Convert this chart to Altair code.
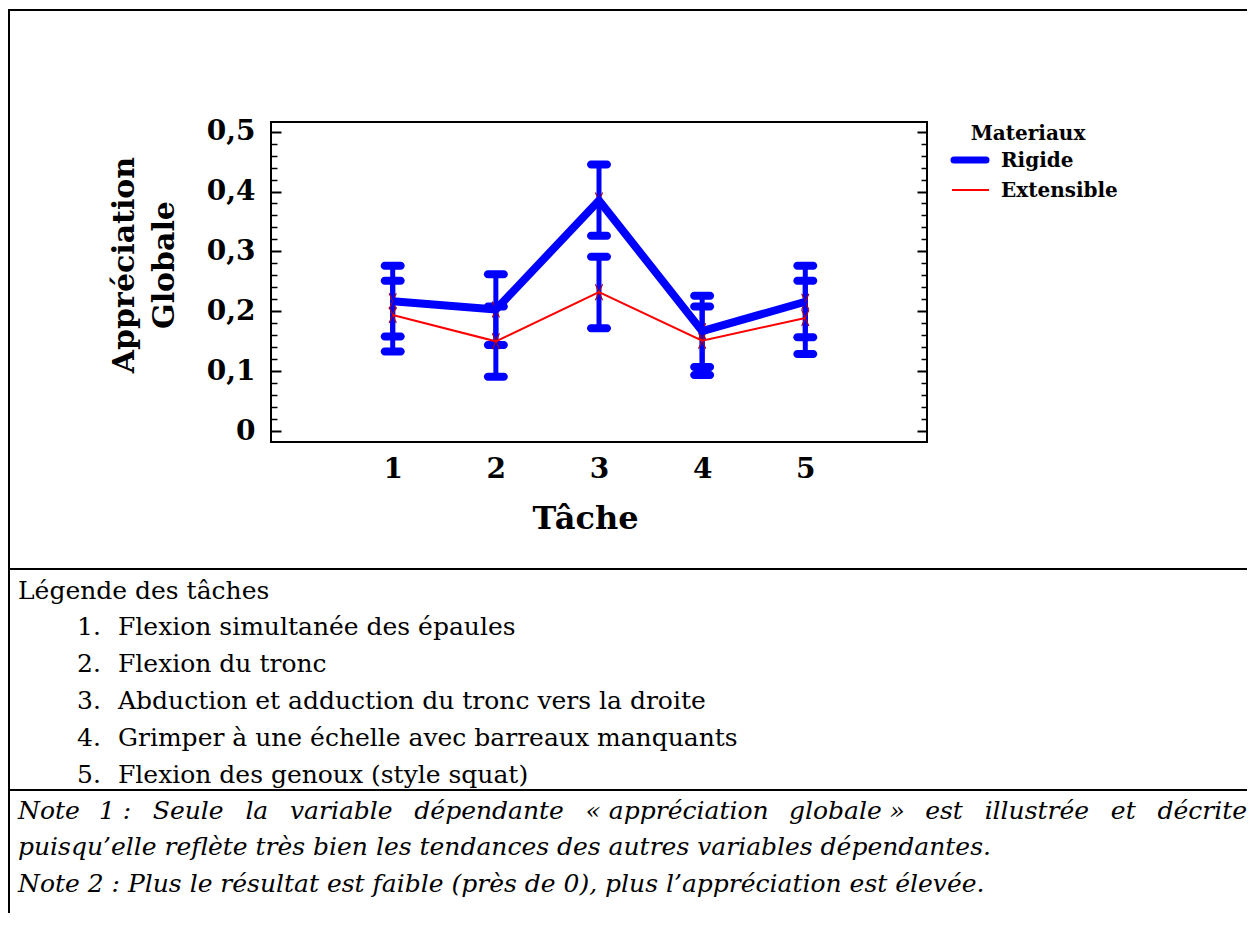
import json
import altair as alt
import pandas as pd

# ---------------- data ----------------
TASKS = [1, 2, 3, 4, 5]
X_TICK_LABELS = ["1", "2", "3", "4", "5"]
SERIES = ["Rigide", "Extensible"]

RIGIDE_MEAN = [0.217, 0.203, 0.385, 0.167, 0.216]
RIGIDE_LOW = [0.158, 0.144, 0.326, 0.107, 0.157]
RIGIDE_HIGH = [0.276, 0.262, 0.445, 0.226, 0.276]

EXT_MEAN = [0.194, 0.150, 0.232, 0.151, 0.189]
EXT_LOW = [0.133, 0.091, 0.172, 0.094, 0.129]
EXT_HIGH = [0.251, 0.208, 0.291, 0.208, 0.251]

Y_MAJOR = [0, 0.1, 0.2, 0.3, 0.4, 0.5]
Y_MAJOR_LABELS = ["0", "0,1", "0,2", "0,3", "0,4", "0,5"]
Y_MINOR = [0.02, 0.04, 0.06, 0.08, 0.12, 0.14, 0.16, 0.18, 0.22, 0.24, 0.26, 0.28,
           0.32, 0.34, 0.36, 0.38, 0.42, 0.44, 0.46, 0.48]

X_TITLE = "Tâche"
Y_TITLE_LINES = ["Appréciation", "Globale"]
LEGEND_TITLE = "Materiaux"

TASK_LEGEND_TITLE = "Légende des tâches"
TASK_NAMES = [
    "Flexion simultanée des épaules",
    "Flexion du tronc",
    "Abduction et adduction du tronc vers la droite",
    "Grimper à une échelle avec barreaux manquants",
    "Flexion des genoux (style squat)",
]
NOTE1_LINE1 = ["Note", "1 :", "Seule", "la", "variable", "dépendante", "« appréciation",
               "globale »", "est", "illustrée", "et", "décrite"]
NOTE1_LINE2 = "puisqu’elle reflète très bien les tendances des autres variables dépendantes."
NOTE2 = "Note 2 : Plus le résultat est faible (près de 0), plus l’appréciation est élevée."

# ---------------- styles ----------------
FONT = "DejaVu Serif"
BLUE = "#0000ff"
RED = "#ff0000"
MARK_RED = "#a0001c"
BODY = 25

rows = []
for name, means, lows, highs in [("Rigide", RIGIDE_MEAN, RIGIDE_LOW, RIGIDE_HIGH),
                                 ("Extensible", EXT_MEAN, EXT_LOW, EXT_HIGH)]:
    for t, m, lo, hi in zip(TASKS, means, lows, highs):
        rows.append({"task": t, "materiau": name, "mean": m, "lower": lo, "upper": hi})
df = pd.DataFrame(rows)

W, H = 656, 320
PAD_L, PAD_T = 263, 114
SVG_W, SVG_H = 1239, 905
RIGHT_EDGE = SVG_W - PAD_L          # plot-coordinate x of the page's right edge
BOTTOM_EDGE = SVG_H - PAD_T         # plot-coordinate y of the svg's bottom edge

xscale = alt.Scale(domain=[-0.18, 6.18], nice=False, zero=False)
yscale = alt.Scale(domain=[-0.018, 0.516], nice=False, zero=False)

y_label_expr = f"{json.dumps(Y_MAJOR_LABELS)}[round(datum.value * 10)]"
x_label_expr = f"{json.dumps(X_TICK_LABELS)}[round(datum.value) - 1]"

ax_left_major = alt.Axis(orient="left", offset=-10, values=Y_MAJOR, tickSize=10, tickWidth=2,
                         tickColor="black", domain=False, grid=False, labelExpr=y_label_expr,
                         labelFont=FONT, labelFontWeight="bold", labelFontSize=28,
                         labelColor="black", labelPadding=16, labelBaseline="middle",
                         labelOverlap=False, title=None)
ax_left_minor = alt.Axis(orient="left", offset=-6, values=Y_MINOR, tickSize=6, tickWidth=1.5,
                         tickColor="black", domain=False, grid=False, labels=False, title=None)
ax_right_major = alt.Axis(orient="right", offset=-10, values=Y_MAJOR, tickSize=10, tickWidth=2,
                          tickColor="black", domain=False, grid=False, labels=False, title=None)
ax_right_minor = alt.Axis(orient="right", offset=-6, values=Y_MINOR, tickSize=6, tickWidth=1.5,
                          tickColor="black", domain=False, grid=False, labels=False, title=None)
ax_x = alt.Axis(orient="bottom", values=TASKS, labelExpr=x_label_expr, ticks=False, tickSize=0,
                domain=False, grid=False, labelFont=FONT, labelFontWeight="bold",
                labelFontSize=28, labelColor="black", labelPadding=35,
                labelBaseline="alphabetic", labelFlush=False, labelOverlap=False,
                title=X_TITLE, titleFont=FONT,
                titleFontWeight="bold", titleFontSize=32, titleColor="black",
                titleX=314, titleY=86, titleBaseline="alphabetic", titleAlign="center")

base = alt.Chart(df)

err_rule = base.mark_rule(color=BLUE, strokeWidth=5).encode(
    x=alt.X("task:Q", scale=xscale, axis=ax_x),
    y=alt.Y("lower:Q", scale=yscale, axis=ax_left_major),
    y2="upper:Q",
)
cap_low = base.mark_tick(color=BLUE, orient="horizontal", size=24, thickness=8,
                         cornerRadius=4, opacity=1).encode(
    x=alt.X("task:Q", scale=xscale, axis=None),
    y=alt.Y("lower:Q", scale=yscale, axis=ax_left_minor),
)
cap_high = base.mark_tick(color=BLUE, orient="horizontal", size=24, thickness=8,
                          cornerRadius=4, opacity=1).encode(
    x=alt.X("task:Q", scale=xscale, axis=None),
    y=alt.Y("upper:Q", scale=yscale, axis=None),
)
markers = base.mark_point(shape="M-0.45,-1L0.45,1M0.45,-1L-0.45,1", size=256,
                          color=MARK_RED, strokeWidth=1.2, filled=False, opacity=1).encode(
    x=alt.X("task:Q", scale=xscale, axis=None),
    y=alt.Y("mean:Q", scale=yscale, axis=None),
)
line_rigide = base.transform_filter(alt.datum.materiau == "Rigide").mark_line(
    color=BLUE, strokeWidth=8, strokeJoin="round").encode(
    x=alt.X("task:Q", scale=xscale, axis=None),
    y=alt.Y("mean:Q", scale=yscale, axis=ax_right_major),
)
line_ext = base.transform_filter(alt.datum.materiau == "Extensible").mark_line(
    color=RED, strokeWidth=2).encode(
    x=alt.X("task:Q", scale=xscale, axis=None),
    y=alt.Y("mean:Q", scale=yscale, axis=ax_right_minor),
)

one = pd.DataFrame({"k": [0]})


def text(s, x, y, size, weight="normal", style="normal", align="left", angle=None,
         baseline="alphabetic"):
    kw = dict(text=s, font=FONT, fontSize=size, fontWeight=weight, fontStyle=style,
              align=align, baseline=baseline, color="black")
    if angle is not None:
        kw["angle"] = angle
    return alt.Chart(one).mark_text(**kw).encode(x=alt.value(x), y=alt.value(y))


def hline(x1, x2, y, width=2, color="black", cap="butt"):
    return alt.Chart(one).mark_rule(color=color, strokeWidth=width, strokeCap=cap).encode(
        x=alt.value(x1), x2=alt.value(x2), y=alt.value(y))


def vline(x, y1, y2, width=2):
    return alt.Chart(one).mark_rule(color="black", strokeWidth=width).encode(
        x=alt.value(x), y=alt.value(y1), y2=alt.value(y2))


annotations = []
# outer table borders
annotations.append(hline(-262, RIGHT_EDGE, -112))
annotations.append(vline(-262, -113, BOTTOM_EDGE))
annotations.append(hline(-262, RIGHT_EDGE, 447))
annotations.append(hline(-262, RIGHT_EDGE, 668))

# y title (two rotated lines)
annotations.append(text(Y_TITLE_LINES[0], -146, 143, 30, weight="bold", align="center",
                        angle=270, baseline="middle"))
annotations.append(text(Y_TITLE_LINES[1], -106, 143, 30, weight="bold", align="center",
                        angle=270, baseline="middle"))

# legend (Materiaux)
annotations.append(text(LEGEND_TITLE, 757, 18, 20, weight="bold", align="center"))
annotations.append(hline(683, 715, 38, width=7, color=BLUE, cap="round"))
annotations.append(hline(681, 718, 68, width=2, color=RED))
annotations.append(text(SERIES[0], 730, 45, 20, weight="bold"))
annotations.append(text(SERIES[1], 730, 75, 20, weight="bold"))

# task legend
annotations.append(text(TASK_LEGEND_TITLE, -253, 477, BODY))
for i, name in enumerate(TASK_NAMES):
    yb = 513 + i * 37
    annotations.append(text(f"{i + 1}.", -194, yb, BODY))
    annotations.append(text(name, -153, yb, BODY))

# notes: first line justified word by word
CW = {"a": .596, "b": .640, "c": .560, "d": .640, "e": .592, "f": .370, "g": .640, "h": .644,
      "i": .320, "j": .310, "k": .606, "l": .320, "m": .948, "n": .644, "o": .602, "p": .640,
      "q": .640, "r": .478, "s": .513, "t": .402, "u": .644, "v": .565, "w": .856, "x": .564,
      "y": .565, "z": .527, "é": .592, "è": .592, "â": .596, "N": .771, "S": .685, "1": .636,
      " ": .318, ":": .337, "«": .557, "»": .557}
widths = [sum(CW.get(c, .58) for c in w) * BODY for w in NOTE1_LINE1]
left, right = -253, 976
gap = (right - left - sum(widths)) / (len(NOTE1_LINE1) - 1)
xpos = left
for w, wd in zip(NOTE1_LINE1, widths):
    annotations.append(text(w, xpos, 697, BODY, style="italic"))
    xpos += wd + gap
annotations.append(text(NOTE1_LINE2, -253, 733, BODY, style="italic"))
annotations.append(text(NOTE2, -253, 770, BODY, style="italic"))

chart = alt.layer(
    err_rule, cap_low, cap_high, markers, line_rigide, line_ext, *annotations
).resolve_axis(x="independent", y="independent").properties(
    width=W, height=H,
    padding={"left": PAD_L, "top": PAD_T, "right": SVG_W - PAD_L - W,
             "bottom": SVG_H - PAD_T - H},
    autosize=alt.AutoSizeParams(type="none"),
).configure(font=FONT, background="white").configure_view(stroke="black", strokeWidth=2)

chart.save("out.html", embed_options={"renderer": "svg", "actions": False})
